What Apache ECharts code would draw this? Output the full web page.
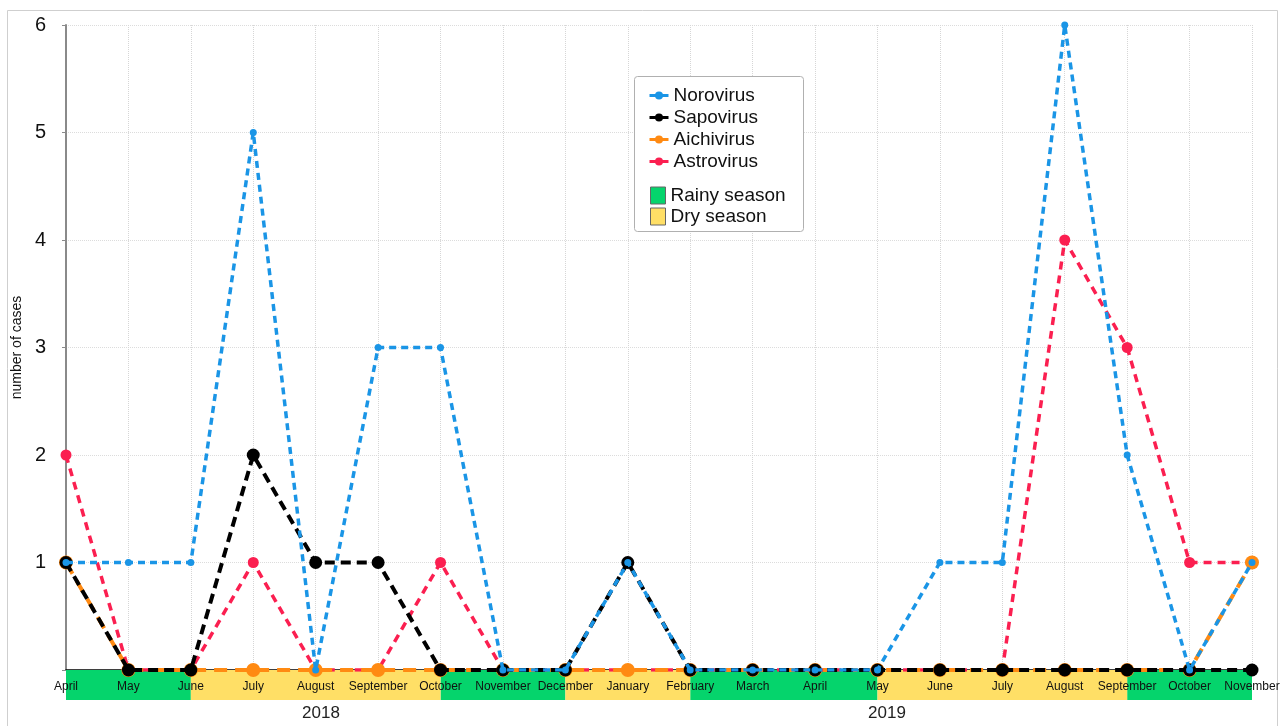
<!DOCTYPE html>
<html style="height: 100%">
<head>
  <meta charset="utf-8">
  <script type="text/javascript" src="https://cdn.jsdelivr.net/npm/echarts@6/dist/echarts.min.js"></script>
</head>
<body style="margin: 0; height: 100%; background: #fff">
  <div id="container" style="width: 1282px; height: 726px"></div>
  <script type="text/javascript">
    var months = ['April', 'May', 'June', 'July', 'August', 'September', 'October', 'November', 'December',
      'January', 'February', 'March', 'April', 'May', 'June', 'July', 'August', 'September', 'October', 'November'];
    var norovirus = [1, 1, 1, 5, 0, 3, 3, 0, 0, 1, 0, 0, 0, 0, 1, 1, 6, 2, 0, 1];
    var sapovirus = [1, 0, 0, 2, 1, 1, 0, 0, 0, 1, 0, 0, 0, 0, 0, 0, 0, 0, 0, 0];
    var aichivirus = [1, 0, 0, 0, 0, 0, 0, 0, 0, 0, 0, 0, 0, 0, 0, 0, 0, 0, 0, 1];
    var astrovirus = [2, 0, 0, 1, 0, 0, 1, 0, 0, 0, 0, 0, 0, 0, 0, 0, 4, 3, 1, 1];
    // season bands as [start month index, end month index]
    var rainyBands = [[0, 2], [6, 8], [10, 13], [17, 19]];
    var dryBands = [[2, 6], [8, 10], [13, 17]];
    var yearLabels = ['2018', '2019'];

    var font = 'Liberation Sans, Arial, sans-serif';
    var myChart = echarts.init(document.getElementById('container'));

    function bandRender(params, api) {
      var p0 = api.coord([api.value(0), 1]);
      var p1 = api.coord([api.value(1), 0]);
      return {
        type: 'rect',
        shape: { x: p0[0], y: p0[1], width: p1[0] - p0[0], height: p1[1] - p0[1] },
        style: api.style()
      };
    }

    function lineSeries(name, data, color, width, dash, size, z) {
      return {
        name: name,
        type: 'line',
        data: data,
        z: z,
        symbol: 'circle',
        symbolSize: size,
        showAllSymbol: true,
        itemStyle: { color: color },
        lineStyle: { color: color, width: width, type: dash }
      };
    }

    var option = {
      animation: false,
      textStyle: { fontFamily: font },
      graphic: [
        { type: 'rect', shape: { x: 7.5, y: 10.5, width: 1270, height: 730 }, style: { fill: 'none', stroke: '#cfcfcf', lineWidth: 1 }, z: -10 },
        { type: 'rect', shape: { x: 634.5, y: 76.5, width: 169, height: 155, r: 3 }, style: { fill: '#fff', stroke: '#b0b0b0', lineWidth: 1 }, z: 5 },
        { type: 'text', x: 321, y: 713, style: { text: yearLabels[0], font: '17px Liberation Sans, Arial', fill: '#222', align: 'center', verticalAlign: 'middle' } },
        { type: 'text', x: 887, y: 713, style: { text: yearLabels[1], font: '17px Liberation Sans, Arial', fill: '#222', align: 'center', verticalAlign: 'middle' } }
      ],
      legend: [{
        data: ['Norovirus', 'Sapovirus', 'Aichivirus', 'Astrovirus'],
        orient: 'vertical',
        left: 643,
        top: 81,
        itemGap: 3,
        itemWidth: 19,
        itemHeight: 10,
        itemTextGap: 10,
        z: 10,
        lineStyle: { type: 'solid', width: 3 },
        itemStyle: { borderWidth: 0 },
        textStyle: { fontSize: 19, color: '#111', fontFamily: font }
      }, {
        data: ['Rainy season', 'Dry season'],
        orient: 'vertical',
        left: 645,
        top: 181,
        itemGap: 2,
        itemWidth: 15,
        itemHeight: 17,
        itemTextGap: 11,
        icon: 'rect',
        z: 10,
        itemStyle: { borderColor: '#666', borderWidth: 1 },
        textStyle: { fontSize: 19, color: '#111', fontFamily: font }
      }],
      grid: [
        { left: 66, right: 30, top: 25, bottom: 56, outerBoundsMode: 'none', containLabel: false },
        { left: 66, right: 30, top: 670, height: 30, outerBoundsMode: 'none', containLabel: false }
      ],
      xAxis: [{
        type: 'category',
        gridIndex: 0,
        data: months,
        boundaryGap: false,
        axisLine: { lineStyle: { color: '#000', width: 1.5 } },
        axisTick: { show: false },
        axisLabel: { show: false },
        splitLine: { show: true, interval: 0, lineStyle: { color: '#d6d6d6', type: 'dotted' } }
      }, {
        type: 'value',
        gridIndex: 1,
        min: 0,
        max: 19,
        interval: 1,
        position: 'top',
        z: 5,
        axisLine: { show: false },
        axisTick: { show: false },
        splitLine: { show: false },
        axisLabel: {
          inside: true,
          margin: 11,
          fontSize: 12,
          color: '#111',
          showMinLabel: true,
          showMaxLabel: true,
          formatter: function (v) { return months[v] || ''; }
        }
      }],
      yAxis: [{
        type: 'value',
        gridIndex: 0,
        min: 0,
        max: 6,
        interval: 1,
        name: 'number of cases',
        nameLocation: 'middle',
        nameGap: 41,
        nameTextStyle: { fontSize: 14, color: '#111' },
        axisLine: { show: true, lineStyle: { color: '#8a8a8a', width: 2 } },
        axisTick: { show: true, length: 4, lineStyle: { color: '#8a8a8a' } },
        axisLabel: {
          fontSize: 20,
          color: '#111',
          margin: 20,
          formatter: function (v) { return v === 0 ? '' : v; }
        },
        splitLine: { lineStyle: { color: '#dcdcdc', type: 'dotted' } }
      }, {
        type: 'value',
        gridIndex: 1,
        min: 0,
        max: 1,
        show: false
      }],
      series: [
        lineSeries('Astrovirus', astrovirus, '#fb1f50', 3.5, [8, 6], 11, 2),
        lineSeries('Aichivirus', aichivirus, '#ff8a12', 4, [13, 8], 14, 3),
        lineSeries('Sapovirus', sapovirus, '#000000', 4, [10, 6], 13, 4),
        lineSeries('Norovirus', norovirus, '#1a95e6', 3.5, [7, 5], 7, 5),
        {
          name: 'Rainy season',
          type: 'custom',
          xAxisIndex: 1,
          yAxisIndex: 1,
          z: 1,
          encode: { x: [0, 1] },
          itemStyle: { color: '#05d46c' },
          renderItem: bandRender,
          data: rainyBands
        },
        {
          name: 'Dry season',
          type: 'custom',
          xAxisIndex: 1,
          yAxisIndex: 1,
          z: 1,
          encode: { x: [0, 1] },
          itemStyle: { color: '#ffdf66' },
          renderItem: bandRender,
          data: dryBands
        }
      ]
    };
    myChart.setOption(option);
  </script>
</body>
</html>
